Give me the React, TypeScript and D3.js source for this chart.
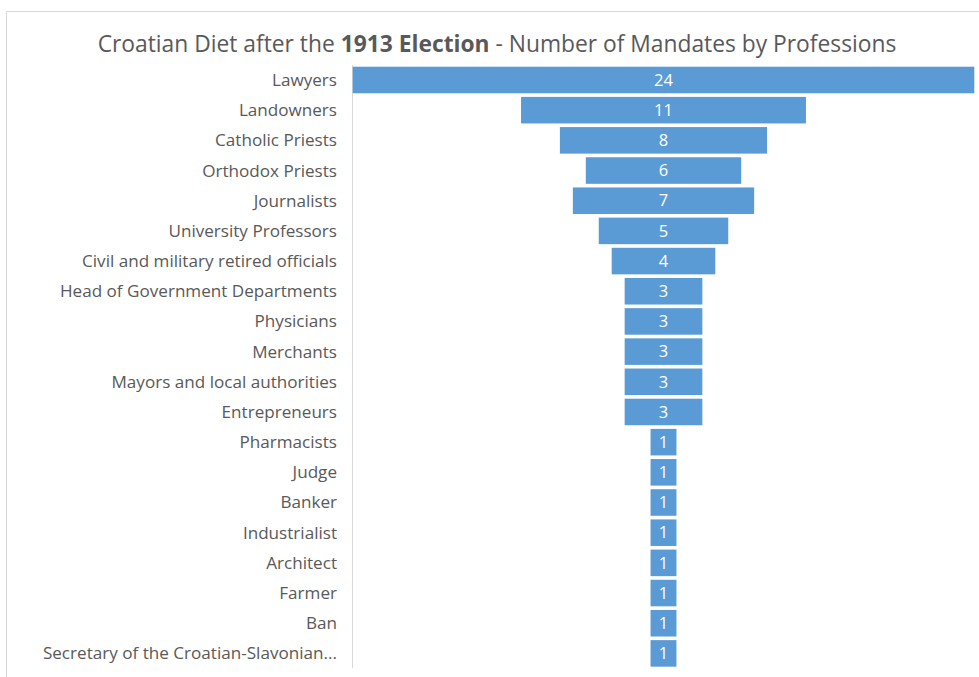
import React from "react";
import * as d3 from "d3";

const categories: string[] = [
  "Lawyers",
  "Landowners",
  "Catholic Priests",
  "Orthodox Priests",
  "Journalists",
  "University Professors",
  "Civil and military retired officials",
  "Head of Government Departments",
  "Physicians",
  "Merchants",
  "Mayors and local authorities",
  "Entrepreneurs",
  "Pharmacists",
  "Judge",
  "Banker",
  "Industrialist",
  "Architect",
  "Farmer",
  "Ban",
  "Secretary of the Croatian-Slavonian...",
];

const mandates: number[] = [24, 11, 8, 6, 7, 5, 4, 3, 3, 3, 3, 3, 1, 1, 1, 1, 1, 1, 1, 1];

const W = 979;
const H = 677;
const FONT = "'Open Sans', 'Noto Sans', sans-serif";
const TEXT = "#595959";
const BAR = "#5B9BD5";

export default function App() {
  const plotLeft = 352.7;
  const plotRight = 974.3;
  const center = (plotLeft + plotRight) / 2;
  const maxV = d3.max(mandates) as number;

  const w = d3.scaleLinear().domain([0, maxV]).range([0, plotRight - plotLeft]);
  const y = d3
    .scaleBand<string>()
    .domain(categories)
    .range([64.9, 668.5])
    .paddingInner(0.12)
    .paddingOuter(0.06);

  return (
    <svg
      width={W}
      height={H}
      style={{ position: "absolute", left: 0, top: 0, background: "#fff" }}
    >
      <rect x={0} y={0} width={W} height={H} fill="#fff" />
      {/* chart border */}
      <line x1={6.5} y1={11.5} x2={W} y2={11.5} stroke="#d9d9d9" strokeWidth={1} />
      <line x1={6.5} y1={11.5} x2={6.5} y2={H} stroke="#d9d9d9" strokeWidth={1} />

      <text
        x={497}
        y={51.5}
        textAnchor="middle"
        fontFamily={FONT}
        fontSize={22.8}
        fill={TEXT}
      >
        Croatian Diet after the <tspan fontWeight="bold">1913 Election</tspan> - Number of
        Mandates by Professions
      </text>

      {/* axis line */}
      <line
        x1={352.5}
        y1={65}
        x2={352.5}
        y2={668}
        stroke="#d9d9d9"
        strokeWidth={1}
      />

      {categories.map((c, i) => {
        const v = mandates[i];
        const bw = w(v);
        const by = y(c) as number;
        const bh = y.bandwidth();
        return (
          <g key={c}>
            <text
              x={337}
              y={by + bh / 2}
              dy="0.35em"
              textAnchor="end"
              fontFamily={FONT}
              fontSize={17.1}
              fill={TEXT}
            >
              {c}
            </text>
            <rect x={center - bw / 2} y={by} width={bw} height={bh} fill={BAR} />
            <text
              x={center}
              y={by + bh / 2}
              dy="0.35em"
              textAnchor="middle"
              fontFamily={FONT}
              fontSize={16.5}
              fill="#fff"
            >
              {v}
            </text>
          </g>
        );
      })}
    </svg>
  );
}
